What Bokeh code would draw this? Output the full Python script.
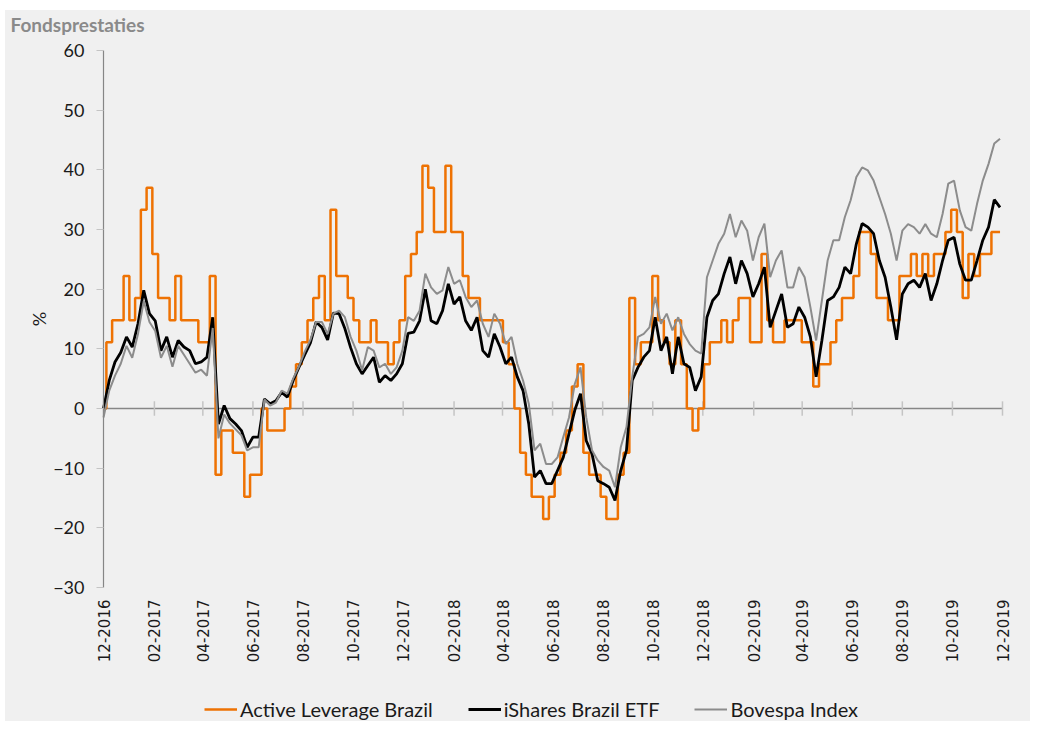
import math
import pandas as pd
from bokeh.plotting import figure
from bokeh.models import Range1d, Legend, LegendItem, FixedTicker, Label
from bokeh.embed import file_html
from bokeh.resources import INLINE

# ---------------- data (weekly readings, % return since 12-2016) ----------------
start_date = "2016-12-01"

tick_labels = ["12-2016", "02-2017", "04-2017", "06-2017", "08-2017", "10-2017",
               "12-2017", "02-2018", "04-2018", "06-2018", "08-2018", "10-2018",
               "12-2018", "02-2019", "04-2019", "06-2019", "08-2019", "10-2019",
               "12-2019"]

y_ticks = [-30, -20, -10, 0, 10, 20, 30, 40, 50, 60]

title_text = "Fondsprestaties"
y_label = "%"
series_names = ["Active Leverage Brazil", "iShares Brazil ETF", "Bovespa Index"]

active_leverage = [
    0, 11.1, 14.8, 14.8, 22.2, 14.8, 18.5, 33.3, 37.0, 25.9,
    18.5, 18.5, 14.8, 22.2, 14.8, 14.8, 14.8, 11.1, 11.1, 22.2,
    -11.1, -3.7, -3.7, -7.4, -7.4, -14.8, -11.1, -11.1, 0, -3.7,
    -3.7, -3.7, 0, 3.7, 7.4, 11.1, 14.8, 18.5, 22.2, 14.8,
    33.3, 22.2, 22.2, 18.5, 14.8, 11.1, 11.1, 14.8, 11.1, 11.1,
    7.4, 11.1, 14.8, 22.2, 25.9, 29.6, 40.7, 37.0, 29.6, 29.6,
    40.7, 29.6, 29.6, 22.2, 18.5, 18.5, 14.8, 14.8, 14.8, 14.8,
    11.1, 7.4, 0, -7.4, -11.1, -14.8, -14.8, -18.5, -14.8, -11.1,
    -7.4, -3.7, 3.7, 7.4, -7.4, -11.1, -11.1, -14.8, -18.5, -18.5,
    -11.1, -7.4, 18.5, 7.4, 11.1, 11.1, 22.2, 14.8, 11.1, 7.4,
    14.8, 7.4, 0, -3.7, 0, 7.4, 11.1, 11.1, 14.8, 11.1,
    14.8, 18.5, 18.5, 11.1, 11.1, 25.9, 14.8, 11.1, 11.1, 14.8,
    14.8, 14.8, 11.1, 11.1, 3.7, 7.4, 7.4, 11.1, 14.8, 18.5,
    18.5, 22.2, 29.6, 29.6, 25.9, 18.5, 18.5, 14.8, 14.8, 22.2,
    22.2, 25.9, 22.2, 25.9, 22.2, 25.9, 25.9, 29.6, 33.3, 29.6,
    18.5, 25.9, 22.2, 25.9, 25.9, 29.6, 29.6,
]

ishares_brazil = [
    0, 4.7, 7.8, 9.4, 12.0, 10.3, 14.2, 19.8, 15.9, 14.7,
    9.7, 12.0, 8.6, 11.4, 10.3, 9.7, 7.5, 7.8, 8.6, 15.3,
    -2.6, 0.5, -1.7, -2.6, -3.7, -6.5, -4.8, -4.8, 1.6, 0.8,
    1.3, 2.7, 1.9, 4.7, 6.9, 9.0, 11.0, 14.5, 13.6, 11.5,
    16.0, 15.9, 13.4, 10.2, 7.5, 5.8, 7.2, 8.6, 4.4, 5.5,
    4.7, 5.8, 7.5, 12.6, 12.8, 14.7, 20.0, 14.7, 14.2, 16.4,
    20.9, 17.5, 18.7, 14.7, 13.1, 15.3, 9.7, 8.6, 12.5, 10.3,
    7.5, 8.6, 5.3, 3.0, -2.6, -11.5, -10.4, -12.6, -12.6, -10.4,
    -8.2, -4.2, -0.3, 2.5, -5.4, -7.6, -12.1, -12.6, -13.2, -15.4,
    -10.4, -7.0, 4.7, 6.9, 8.6, 9.7, 15.3, 9.7, 12.0, 5.8,
    12.0, 7.5, 6.9, 3.0, 5.3, 15.3, 18.1, 19.2, 22.6, 25.4,
    20.9, 24.8, 22.6, 18.7, 20.9, 23.7, 13.6, 16.4, 19.2, 13.6,
    14.2, 17.0, 15.3, 12.0, 5.3, 11.4, 18.1, 18.7, 20.3, 23.7,
    22.6, 27.6, 31.0, 30.4, 29.3, 24.8, 22.0, 17.0, 11.5, 19.2,
    20.9, 21.5, 20.3, 22.6, 18.1, 20.9, 24.8, 28.2, 28.7, 24.2,
    21.5, 21.5, 24.8, 28.2, 30.4, 35.0, 33.7,
]

bovespa = [
    -1.5, 3.0, 5.5, 7.5, 10.5, 8.5, 12.5, 18.0, 14.5, 13.0,
    8.5, 10.5, 7.0, 10.5, 9.0, 7.5, 6.0, 6.5, 5.5, 13.5,
    -5.0, -1.0, -2.5, -3.5, -4.5, -7.0, -6.5, -6.5, 1.5, 0.5,
    1.0, 3.0, 2.5, 5.0, 7.0, 9.5, 11.5, 14.5, 14.5, 12.5,
    15.9, 16.4, 15.3, 12.0, 9.7, 6.4, 10.3, 9.7, 6.9, 7.5,
    5.8, 6.9, 9.7, 15.3, 14.7, 16.4, 22.6, 20.3, 19.2, 19.8,
    23.7, 20.9, 21.5, 18.7, 17.0, 18.1, 14.2, 12.0, 15.9, 14.2,
    10.8, 12.0, 7.5, 4.7, 0.8, -7.0, -5.9, -9.3, -9.3, -8.2,
    -4.8, -1.5, 4.1, 6.9, -1.5, -7.0, -8.7, -9.8, -10.4, -13.2,
    -6.5, -3.1, 5.3, 12.0, 12.5, 13.6, 18.7, 14.2, 15.9, 13.1,
    15.3, 12.5, 10.8, 9.7, 9.2, 22.0, 24.8, 27.6, 29.3, 32.6,
    28.7, 31.5, 29.8, 24.8, 28.7, 31.0, 22.0, 24.8, 26.5, 20.3,
    20.3, 23.7, 22.0, 17.0, 11.4, 18.1, 24.8, 28.2, 28.2, 32.1,
    34.9, 38.8, 40.4, 39.9, 38.2, 35.4, 32.6, 29.3, 24.8, 29.8,
    30.9, 30.4, 29.3, 30.9, 29.3, 28.7, 32.6, 37.7, 38.2, 33.2,
    30.4, 29.8, 34.3, 38.2, 41.0, 44.4, 45.2,
]

# ---------------- derived x positions (days since start) ----------------
t0 = pd.Timestamp(start_date)
dates = pd.date_range(start_date, periods=len(active_leverage), freq="7D")
days = [int(d) for d in (dates - t0).days]
tick_dates = pd.to_datetime(["01-" + t for t in tick_labels], format="%d-%m-%Y")
tick_days = [int(d) for d in (tick_dates - t0).days]

PANEL = "#f0f0f0"
ORANGE = "#EE7203"
BLACK = "#000000"
GREY = "#8C8C8C"
AXIS = "#868686"
TICK = "#c4c4c4"
TXT = "#1a1a1a"

# ---------------- layout (page pixels) ----------------
# plotting band: dates from x=103 to x=1002, values -30..60 from y=587 to y=50.
# The frame is widened around it so that the axes, date labels and legend
# (all drawn inside it) are never clipped.
FIG_X, FIG_Y, FIG_W, FIG_H = 5, 10, 1025, 711
BAND_L, BAND_R, BAND_T, BAND_B = 103, 1002, 50, 587
FRAME_L, FRAME_R, FRAME_T, FRAME_B = 20, 1020, 36, 721

px_per_day = (BAND_R - BAND_L) / (tick_days[-1] - tick_days[0])
px_per_unit = (BAND_B - BAND_T) / (y_ticks[-1] - y_ticks[0])
x_start = tick_days[0] - (BAND_L - FRAME_L) / px_per_day
x_end = tick_days[-1] + (FRAME_R - BAND_R) / px_per_day
y_start = y_ticks[0] - (FRAME_B - BAND_B) / px_per_unit
y_end = y_ticks[-1] + (BAND_T - FRAME_T) / px_per_unit

p = figure(width=FIG_W, height=FIG_H,
           x_range=Range1d(x_start, x_end), y_range=Range1d(y_start, y_end),
           output_backend="svg", toolbar_location=None,
           min_border_left=FRAME_L - FIG_X,
           min_border_right=FIG_X + FIG_W - FRAME_R,
           min_border_top=FRAME_T - FIG_Y,
           min_border_bottom=FIG_Y + FIG_H - FRAME_B,
           background_fill_color=PANEL, border_fill_color=PANEL)
p.margin = (FIG_Y, 10, 10, FIG_X)
p.styles = {"background-color": PANEL}
p.outline_line_color = None
p.xgrid.visible = False
p.ygrid.visible = False

p.title.text = title_text
p.title.align = "left"
p.title.offset = -10
p.title.standoff = 1
p.title.text_font = "Lato"
p.title.text_font_size = "19px"
p.title.text_font_style = "bold"
p.title.text_color = "#8a8a8a"

# x axis: date labels hanging below the -30 level
xa = p.xaxis[0]
xa.fixed_location = y_ticks[0]
xa.ticker = FixedTicker(ticks=tick_days)
xa.major_label_overrides = {d: lab for d, lab in zip(tick_days, tick_labels)}
xa.major_label_orientation = math.pi / 2
xa.axis_line_color = None
xa.major_tick_line_color = None
xa.minor_tick_line_color = None
xa.major_tick_out = 0
xa.major_tick_in = 0
xa.major_label_standoff = 12
xa.major_label_text_font = "DejaVu Sans"
xa.major_label_text_font_size = "15px"
xa.major_label_text_color = TXT

# y axis at the first date
ya = p.yaxis[0]
ya.fixed_location = tick_days[0]
ya.bounds = (y_ticks[0], y_ticks[-1])
ya.ticker = FixedTicker(ticks=y_ticks)
ya.axis_line_color = AXIS
ya.axis_line_width = 1.2
ya.major_tick_line_color = TICK
ya.major_tick_line_width = 1.2
ya.major_tick_out = 7
ya.major_tick_in = 0
ya.minor_tick_line_color = None
ya.major_label_standoff = 12
ya.major_label_text_font = "Lato"
ya.major_label_text_font_size = "18px"
ya.major_label_text_color = TXT

p.add_layout(Label(x=38 - FRAME_L, x_units="screen",
                   y=(y_ticks[0] + y_ticks[-1]) / 2, text=y_label,
                   angle=math.pi / 2, text_align="center",
                   text_baseline="middle", text_font="Lato",
                   text_font_size="18px", text_color=TXT))

# zero line with crossing tick marks
p.segment(x0=[tick_days[0]], x1=[tick_days[-1]], y0=[0], y1=[0],
          line_color=AXIS, line_width=1.5)
p.segment(x0=tick_days, x1=tick_days,
          y0=[-1.2] * len(tick_days), y1=[1.2] * len(tick_days),
          line_color=TICK, line_width=1.5)

r_al = p.step(days, active_leverage, mode="center", line_color=ORANGE,
              line_width=2.5)
r_is = p.line(days, ishares_brazil, line_color=BLACK, line_width=2.8)
r_bv = p.line(days, bovespa, line_color=GREY, line_width=2.0)

legend = Legend(items=[LegendItem(label=series_names[0], renderers=[r_al]),
                       LegendItem(label=series_names[1], renderers=[r_is]),
                       LegendItem(label=series_names[2], renderers=[r_bv])],
                orientation="horizontal", location=(204 - FRAME_L, 0),
                border_line_color=None, background_fill_alpha=0,
                label_text_font="Lato", label_text_font_size="20px",
                label_text_color=TXT, glyph_width=33, glyph_height=20,
                label_standoff=3, spacing=35, padding=0, margin=0)
p.add_layout(legend)

open("out.html", "w").write(file_html(p, INLINE))
